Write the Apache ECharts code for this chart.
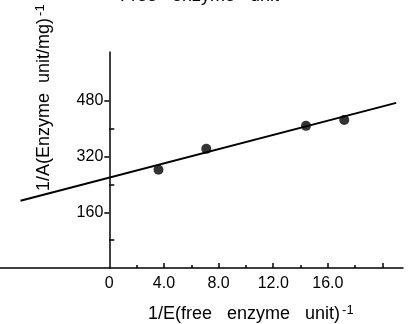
<!DOCTYPE html>
<html>
<head>
<meta charset="utf-8">
<script src="https://cdn.jsdelivr.net/npm/echarts@6/dist/echarts.min.js"></script>
<style>
html,body{margin:0;padding:0;background:#fff;}
#chart{width:411px;height:324px;}
</style>
</head>
<body>
<div id="chart"></div>
<script>
// measured points (1/E , 1/A)
var pointX = [3.6, 7.1, 14.4, 17.2];
var pointY = [282, 342, 408, 425];
// fitted straight line, end points
var lineX = [-6.5, 21.0];
var lineY = [193, 474];
var xLabels = [0, 4, 8, 12, 16];
var xMajor = [4, 8, 12, 16, 20];
var xMinor = [2, 6, 10, 14, 18];
var yLabels = [160, 320, 480];
var yMinor = [80, 240, 400];

var pts = [], fit = [];
for (var i = 0; i < pointX.length; i++) pts.push([pointX[i], pointY[i]]);
for (var j = 0; j < lineX.length; j++) fit.push([lineX[j], lineY[j]]);

var chart = echarts.init(document.getElementById('chart'));
var font = 'Liberation Sans';
var xMin = -8, xMax = 21.5;
// y axis sits at x = 0, grid spans the whole width
var yOff = -(411 - 8) * (0 - xMin) / (xMax - xMin);
var black = { color: '#000', width: 1.5 };
chart.setOption({
	animation: false,
	grid: { left: 0, right: 8, top: 52, bottom: 56, containLabel: false, outerBoundsMode: 'none' },
	xAxis: [{
		type: 'value', min: xMin, max: xMax, position: 'bottom',
		splitLine: { show: false },
		axisLine: { lineStyle: black },
		axisTick: { inside: true, length: 5, lineStyle: black, customValues: xMajor },
		axisLabel: {
			customValues: xLabels, margin: 8, color: '#000', fontSize: 16, fontFamily: font,
			formatter: function (v) { return v === 0 ? '0' : v.toFixed(1); }
		}
	}, {
		type: 'value', min: xMin, max: xMax, position: 'bottom',
		splitLine: { show: false },
		axisLine: { show: false },
		axisTick: { inside: true, length: 3, lineStyle: black, customValues: xMinor },
		axisLabel: { show: false }
	}],
	yAxis: [{
		type: 'value', min: 0, max: 620, position: 'left', offset: yOff,
		splitLine: { show: false },
		axisLine: { onZero: false, lineStyle: black },
		axisTick: { length: 5, lineStyle: black, customValues: yLabels },
		axisLabel: { customValues: yLabels, margin: 6, color: '#000', fontSize: 16, fontFamily: font }
	}, {
		type: 'value', min: 0, max: 620, position: 'left', offset: yOff,
		splitLine: { show: false },
		axisLine: { show: false, onZero: false },
		axisTick: { inside: true, length: 5, lineStyle: black, customValues: yMinor },
		axisLabel: { show: false }
	}],
	series: [{
		type: 'line', data: fit, symbol: 'none',
		lineStyle: { color: '#000', width: 2 }
	}, {
		type: 'scatter', data: pts, symbolSize: 10,
		itemStyle: { color: '#000' }
	}],
	graphic: [{
		type: 'text', left: 120, top: -13,
		style: { text: 'Free   enzyme   unit', font: '18px ' + font, fill: '#000' }
	}, {
		type: 'text', x: 148, y: 304,
		style: {
			text: '1/E(free   enzyme   unit){s|-1}', font: '18px ' + font, fill: '#000',
			rich: { s: { fontSize: 13, fontFamily: font, verticalAlign: 'top', padding: [0, 0, 8, 2] } }
		}
	}, {
		type: 'text', x: 34, y: 191, rotation: Math.PI / 2,
		style: {
			text: '1/A(Enzyme  unit/mg){s|-1}', font: '18px ' + font, fill: '#000',
			rich: { s: { fontSize: 13, fontFamily: font, verticalAlign: 'top', padding: [0, 0, 8, 2] } }
		}
	}]
});
</script>
</body>
</html>
